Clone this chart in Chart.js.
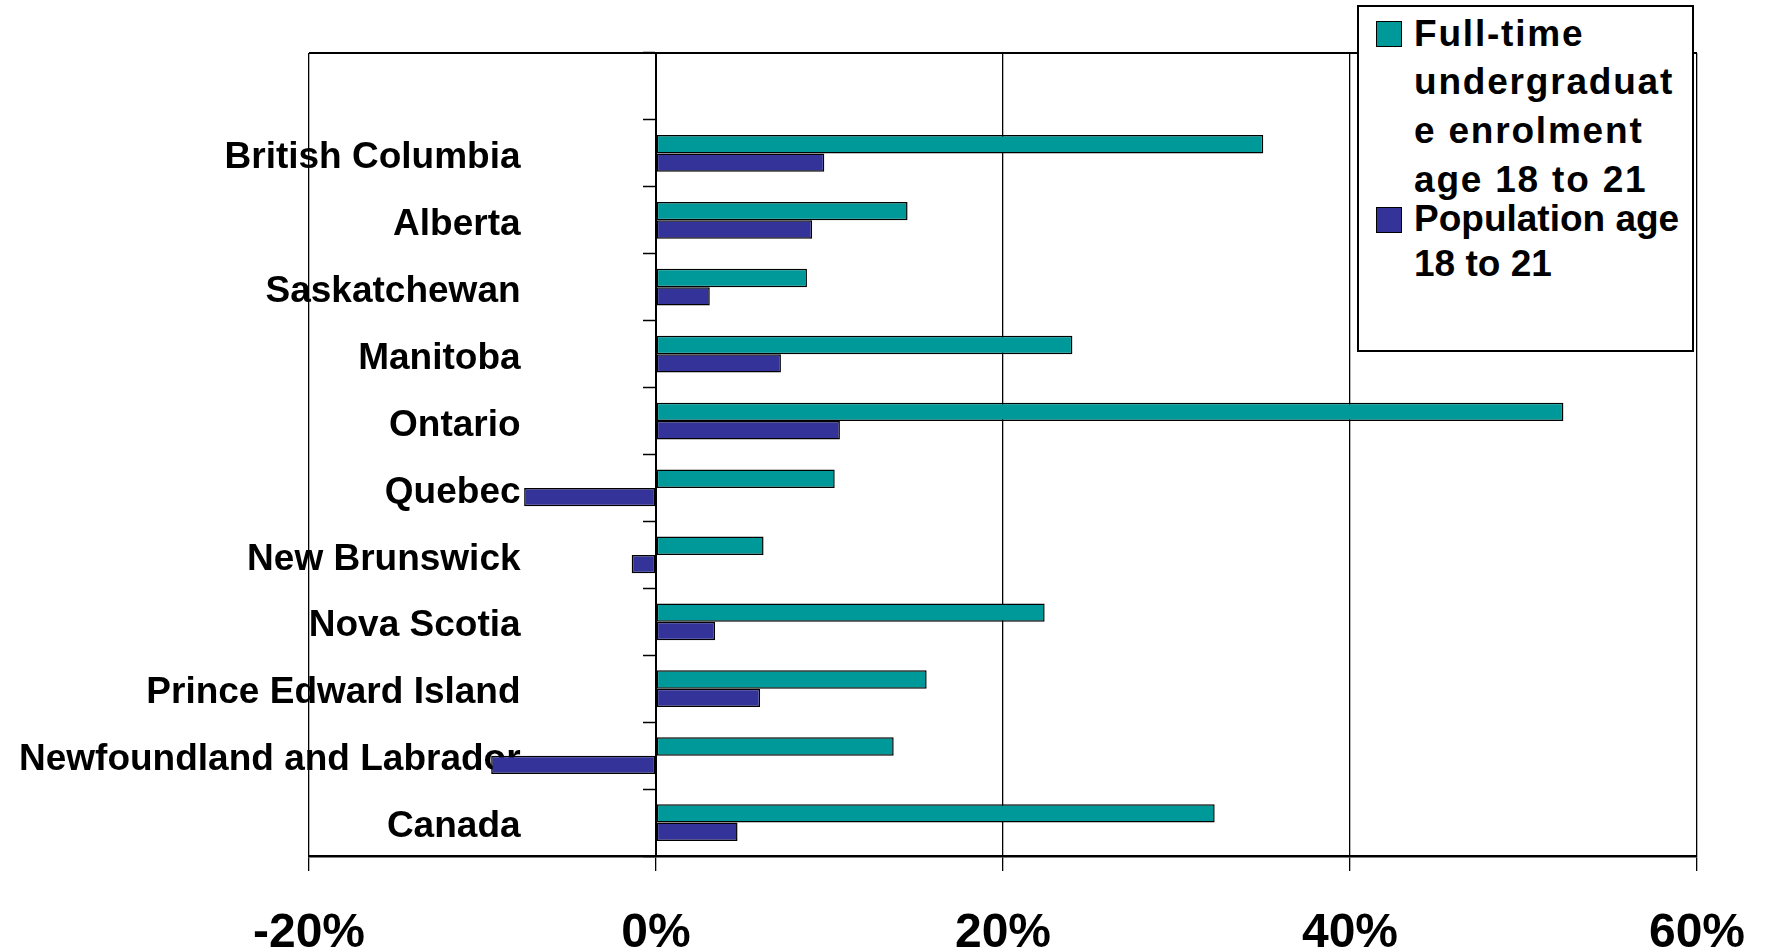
<!DOCTYPE html>
<html>
<head>
<meta charset="utf-8">
<script src="https://cdn.jsdelivr.net/npm/chart.js@4"></script>
<style>
  body { margin: 0; background: #fff; }
  #wrap { position: relative; width: 1765px; height: 951px; }
  #legend {
    position: absolute; left: 1357px; top: 5px; width: 333px; height: 343px;
    border: 2px solid #000; background: #fff;
    font-family: "Liberation Sans", Arial, sans-serif; font-weight: bold; font-size: 37px; color: #000;
  }
  .item { position: absolute; left: 55px; white-space: nowrap; }
  .swatch { position: absolute; left: 17px; width: 24px; height: 24px; border: 1.5px solid #000; }
</style>
</head>
<body>
<div id="wrap">
  <canvas id="myChart" width="1765" height="951"></canvas>
  <div id="legend"></div>
</div>
<script>
"use strict";

// categories, top row left blank like the original plot area
const provinces = ["", "British Columbia", "Alberta", "Saskatchewan", "Manitoba", "Ontario", "Quebec",
  "New Brunswick", "Nova Scotia", "Prince Edward Island", "Newfoundland and Labrador", "Canada"];
// percent change
const enrolment = [null, 35.0, 14.5, 8.7, 24.0, 52.3, 10.3, 6.2, 22.4, 15.6, 13.7, 32.2];
const population = [null, 9.7, 9.0, 3.1, 7.2, 10.6, -7.6, -1.4, 3.4, 6.0, -9.5, 4.7];
const xTicks = [-20, 0, 20, 40, 60];

const seriesNames = ["Full-time undergraduate enrolment age 18 to 21", "Population age 18 to 21"];
const legendLines = [["Full-time", "undergraduat", "e enrolment", "age 18 to 21"], ["Population age", "18 to 21"]];
const seriesColors = ["#009999", "#333399"];

const FONT = "'Liberation Sans', Arial, sans-serif";

// legend box (html so the wrapped lines match)
const legendBox = document.getElementById("legend");
const legendTops = [2.5, 190];
const legendLH = [48.7, 44.7];
const legendSpacing = [1.8, 0];
const swatchTops = [14, 200];
legendLines.forEach((lines, i) => {
  const sw = document.createElement("div");
  sw.className = "swatch";
  sw.style.top = swatchTops[i] + "px";
  sw.style.background = seriesColors[i];
  legendBox.appendChild(sw);
  const txt = document.createElement("div");
  txt.className = "item";
  txt.style.top = legendTops[i] + "px";
  txt.style.lineHeight = legendLH[i] + "px";
  txt.style.letterSpacing = legendSpacing[i] + "px";
  txt.innerHTML = lines.join("<br>");
  legendBox.appendChild(txt);
});

// top edge of the plot frame
const frameTop = {
  id: "frameTop",
  beforeDatasetsDraw(chart) {
    const { ctx, chartArea } = chart;
    ctx.save();
    ctx.strokeStyle = "#000";
    ctx.lineWidth = 2;
    ctx.beginPath();
    ctx.moveTo(chartArea.left, chartArea.top);
    ctx.lineTo(chartArea.right, chartArea.top);
    ctx.stroke();
    ctx.restore();
  }
};

function noPadding(scale) {
  scale.paddingTop = 0;
  scale.paddingBottom = 0;
  scale.paddingLeft = 0;
  scale.paddingRight = 0;
}

const ctx = document.getElementById("myChart").getContext("2d");
const myChart = new Chart(ctx, {
  type: "bar",
  data: {
    labels: provinces,
    datasets: [
      {
        label: seriesNames[0],
        data: enrolment,
        backgroundColor: seriesColors[0],
        borderColor: "#000",
        borderWidth: 1.5,
        borderSkipped: false,
      },
      {
        label: seriesNames[1],
        data: population,
        backgroundColor: seriesColors[1],
        borderColor: "#000",
        borderWidth: 1.5,
        borderSkipped: false,
      },
    ],
  },
  options: {
    indexAxis: "y",
    responsive: false,
    animation: false,
    devicePixelRatio: 1,
    layout: { padding: { left: 309, right: 68, top: 53, bottom: 0 } },
    datasets: { bar: { categoryPercentage: 0.55, barPercentage: 1.0 } },
    plugins: { legend: { display: false }, tooltip: { enabled: false } },
    scales: {
      x: {
        position: "bottom",
        min: xTicks[0],
        max: xTicks[xTicks.length - 1],
        afterBuildTicks: (scale) => { scale.ticks = xTicks.map((v) => ({ value: v })); },
        afterFit: (scale) => { scale.height = 95; noPadding(scale); },
        grid: { color: "#000", lineWidth: 1.3, tickLength: 15, tickColor: "#000" },
        border: { display: true, color: "#000", width: 2.5 },
        ticks: {
          color: "#000",
          padding: 34,
          font: { family: FONT, size: 48, weight: "bold" },
          callback: (v) => v + "%",
        },
      },
      // axis line and tick marks at 0%
      y: {
        position: { x: 0 },
        afterFit: noPadding,
        grid: { drawOnChartArea: false, drawTicks: true, tickLength: 12, tickColor: "#000", tickWidth: 1.5 },
        border: { display: true, color: "#000", width: 2 },
        ticks: { display: false },
      },
      // category names, right aligned inside the plot area, drawn over the bars
      yLabels: {
        type: "category",
        axis: "y",
        position: "left",
        offset: true,
        z: 1,
        afterFit: (scale) => { scale.width = 0; noPadding(scale); },
        grid: { display: false, drawTicks: false },
        border: { display: false },
        ticks: {
          mirror: true,
          crossAlign: "far",
          color: "#000",
          padding: -290,
          autoSkip: false,
          // empty first line nudges the name a few pixels down
          callback: (v, i) => ["", provinces[i]],
          font: { family: FONT, size: 37, weight: "bold", lineHeight: "9px" },
        },
      },
    },
  },
  plugins: [frameTop],
});
</script>
</body>
</html>
